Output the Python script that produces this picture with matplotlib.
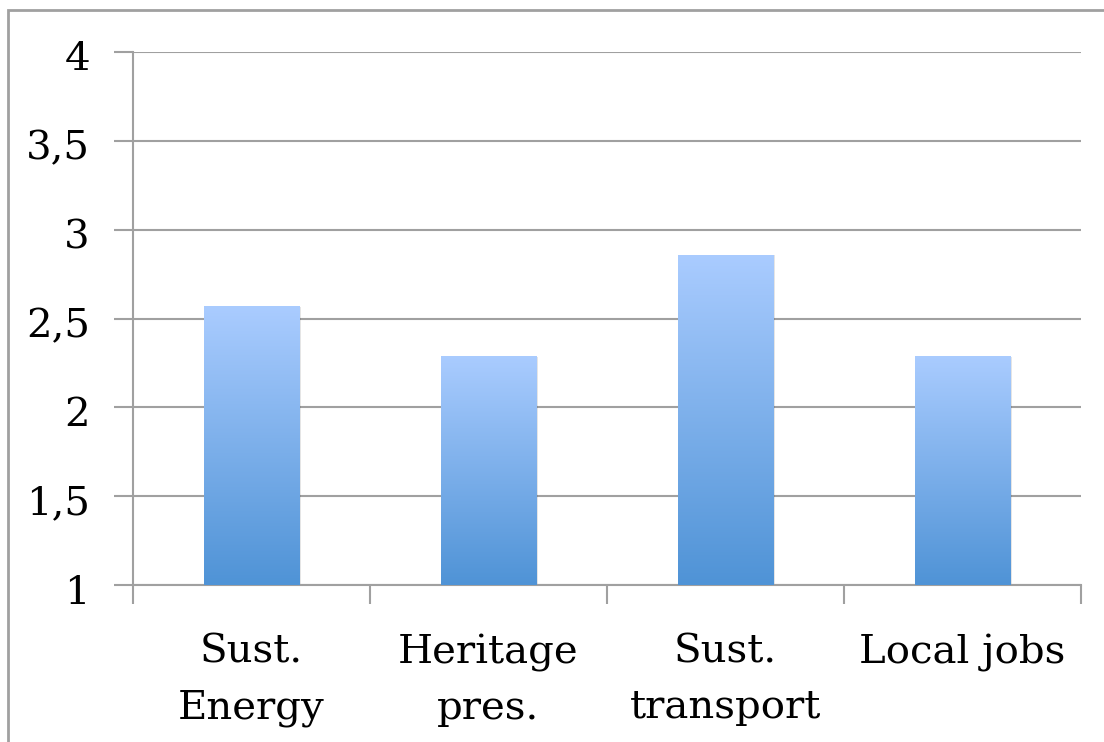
import numpy as np
import matplotlib
matplotlib.use("Agg")
import matplotlib.pyplot as plt
from matplotlib.patches import Rectangle
from matplotlib.ticker import FixedLocator
from matplotlib.transforms import ScaledTranslation

categories = ["Sust.\nEnergy", "Heritage\npres.", "Sust.\ntransport", "Local jobs"]
values = [2.57, 2.29, 2.86, 2.29]
yticks = [1, 1.5, 2, 2.5, 3, 3.5, 4]
ytick_labels = ["1", "1,5", "2", "2,5", "3", "3,5", "4"]

plt.rcParams['font.family'] = ['DejaVu Serif']
fig = plt.figure(figsize=(11.04, 7.42), dpi=100)
ax = fig.add_axes([133/1104, 1-585/742, (1081-133)/1104, (585-52)/742])

grid_c = "#A0A0A0"
x = np.arange(len(categories))
width = 0.405
bars = ax.bar(x, np.array(values) - 1, bottom=1, width=width, color="none", zorder=3)

grad = np.linspace(0, 1, 256).reshape(-1, 1)
cmap = matplotlib.colors.LinearSegmentedColormap.from_list("g", ["#4F93D6", "#AACCFF"])
for b, v in zip(bars, values):
    x0 = b.get_x()
    sh = Rectangle((x0 + 0.008, 1), b.get_width(), v - 1 - 0.005, facecolor="#000000",
                   alpha=0.10, edgecolor="none", zorder=2.5)
    ax.add_patch(sh)
    im = ax.imshow(grad, extent=[x0, x0 + b.get_width(), 1, v], origin="lower",
                   cmap=cmap, aspect="auto", zorder=3, interpolation="bicubic")
    im.set_clip_path(b)

ax.set_xlim(-0.5, len(categories) - 0.5)
ax.set_ylim(1, 4)
ax.set_yticks(yticks)
ax.set_yticklabels(ytick_labels)
ax.yaxis.grid(True, color=grid_c, linewidth=1.5, zorder=0)
ax.set_axisbelow(True)

ax.set_xticks(x)
ax.set_xticklabels(categories, linespacing=1.65)
ax.xaxis.set_minor_locator(FixedLocator(np.arange(len(categories) + 1) - 0.5))
ax.tick_params(axis="x", which="major", length=0, pad=35, labelsize=29)
ax.tick_params(axis="x", which="minor", length=14, width=1.5, color=grid_c, direction="out")
ax.tick_params(axis="y", length=14, width=1.5, color=grid_c, direction="out", pad=17, labelsize=29)

offset = ScaledTranslation(0, -4/100, fig.dpi_scale_trans)
for t in ax.yaxis.get_major_ticks():
    t.label1.set_transform(t.label1.get_transform() + offset)

for s in ["top", "right"]:
    ax.spines[s].set_visible(False)
for s in ["left", "bottom"]:
    ax.spines[s].set_color(grid_c)
    ax.spines[s].set_linewidth(1.5)

frame = Rectangle((8/1104, -0.1), 1.2, 1 - 10/742 + 0.1, transform=fig.transFigure,
                  facecolor="none", edgecolor="#A0A0A0", linewidth=2, clip_on=False)
fig.patches.append(frame)

fig.savefig("out.png", dpi=100)
